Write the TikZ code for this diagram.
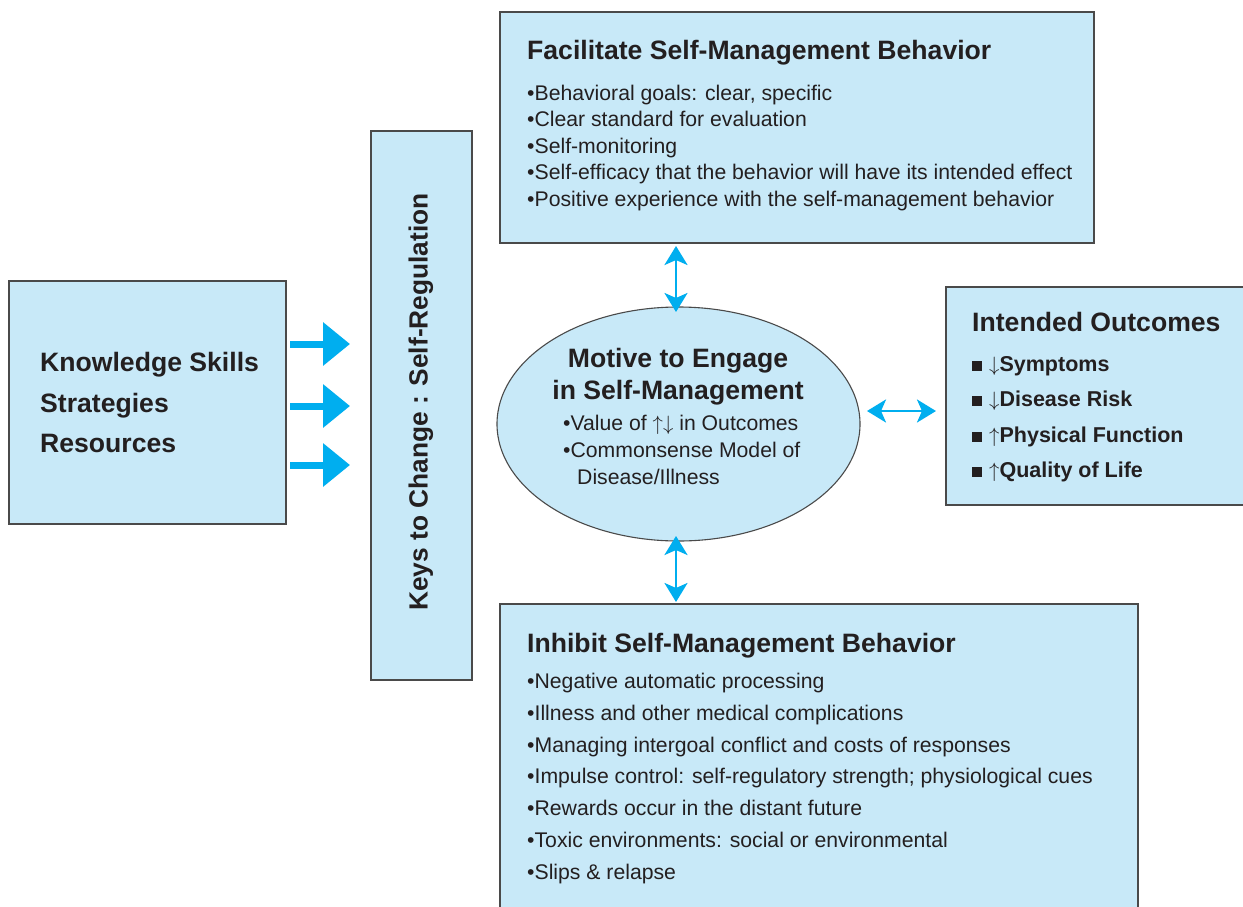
\documentclass[tikz,border=0pt]{standalone}
\usepackage{fontspec}
\setmainfont{Liberation Sans}
\usetikzlibrary{arrows.meta,shapes.geometric}
\definecolor{boxfill}{HTML}{C8E9F8}
\definecolor{boxline}{HTML}{4A4A4A}
\definecolor{arr}{HTML}{00AEEF}
\definecolor{txt}{HTML}{231F20}
\newcommand{\UpA}{$\uparrow$}
\newcommand{\DnA}{$\downarrow$}
\newcommand{\Sq}{\rule{10pt}{10pt}\hspace{7pt}}
\begin{document}
\begin{tikzpicture}[x=1pt,y=-1pt,
  panel/.style={draw=boxline,fill=boxfill,line width=1.1pt},
  title/.style={anchor=base west,font=\fontsize{26.6}{30}\selectfont\bfseries,text=txt,inner sep=0},
  item/.style={anchor=base west,font=\fontsize{21.2}{25}\selectfont,text=txt,inner sep=0},
  outitem/.style={anchor=base west,font=\fontsize{21.5}{25}\selectfont\bfseries,text=txt,inner sep=0},
  bigarrow/.style={draw=arr,line width=7pt,-{Triangle[length=27pt,width=42pt]}},
  dblarrow/.style={draw=arr,line width=2.8pt,{Stealth[length=19pt,width=23pt,inset=5pt]}-{Stealth[length=19pt,width=23pt,inset=5pt]}}]
\useasboundingbox (0,0) rectangle (1243,906);
\fill[white] (0,0) rectangle (1243,906);
% boxes
\path[panel] (9,281) rectangle (286,524);
\node[inner sep=0,minimum width=277pt,minimum height=243pt] (kn) at (147.5,402.5) {};
\path[panel] (371,131) rectangle (472,680);
\node[inner sep=0,minimum width=101pt,minimum height=549pt] (keys) at (421.5,405.5) {};
\path[panel] (500,12) rectangle (1094,243);
\node[inner sep=0,minimum width=594pt,minimum height=231pt] (fac) at (797,127.5) {};
\path[panel] (946,287) rectangle (1250,505);
\node[inner sep=0,minimum width=297pt,minimum height=218pt] (out) at (1094.5,396) {};
\path[panel] (500,604) rectangle (1138,920);
\node[inner sep=0,minimum width=638pt,minimum height=302pt] (inh) at (819,755) {};
\node[ellipse,draw=boxline,fill=boxfill,line width=1.1pt,inner sep=0,minimum width=363pt,minimum height=234pt] (mot) at (678.5,424) {};
% left text
\node[title] (k1) at (40,371) {Knowledge Skills};
\node[title] (k2) at (40,412) {Strategies};
\node[title] (k3) at (40,452) {Resources};
% vertical text
\node[rotate=90,font=\fontsize{26.3}{30}\selectfont\bfseries,text=txt,inner sep=0] (kt) at (421,402) {Keys to Change : Self-Regulation};
% facilitate
\node[title] (ft) at (527,59) {Facilitate Self-Management Behavior};
\node[item] (f1) at (527,100) {•Behavioral goals: clear, specific};
\node[item] (f2) at (527,126.5) {•Clear standard for evaluation};
\node[item] (f3) at (527,153) {•Self-monitoring};
\node[item] (f4) at (527,179.5) {•Self-efficacy that the behavior will have its intended effect};
\node[item] (f5) at (527,206) {•Positive experience with the self-management behavior};
% inhibit
\node[title] (it) at (527,652) {Inhibit Self-Management Behavior};
\node[item] (i1) at (527,688) {•Negative automatic processing};
\node[item] (i2) at (527,720) {•Illness and other medical complications};
\node[item] (i3) at (527,752) {•Managing intergoal conflict and costs of responses};
\node[item] (i4) at (527,783.5) {•Impulse control: self-regulatory strength; physiological cues};
\node[item] (i5) at (527,815) {•Rewards occur in the distant future};
\node[item] (i6) at (527,847) {•Toxic environments: social or environmental};
\node[item] (i7) at (527,879) {•Slips \& relapse};
% outcomes
\node[title] (ot) at (972,331) {Intended Outcomes};
\node[outitem] (o1) at (972,371) {\Sq\DnA Symptoms};
\node[outitem] (o2) at (972,406) {\Sq\DnA Disease Risk};
\node[outitem] (o3) at (972,442) {\Sq\UpA Physical Function};
\node[outitem] (o4) at (972,477) {\Sq\UpA Quality of Life};
% ellipse text
\node[font=\fontsize{26.6}{30}\selectfont\bfseries,text=txt,inner sep=0,anchor=base] (m1) at (678,367) {Motive to Engage};
\node[font=\fontsize{26.6}{30}\selectfont\bfseries,text=txt,inner sep=0,anchor=base] (m2) at (678,399) {in Self-Management};
\node[item] (m3) at (563,430) {•Value of \UpA\DnA\ in Outcomes};
\node[item] (m4) at (563,457) {•Commonsense Model of};
\node[item] (m5) at (577,484) {Disease/Illness};
% arrows
\coordinate (a1s) at (290,344); \coordinate (a1e) at (350,344);
\coordinate (a2s) at (290,406); \coordinate (a2e) at (350,406);
\coordinate (a3s) at (290,465); \coordinate (a3e) at (350,465);
\draw[bigarrow] (a1s) -- (a1e);
\draw[bigarrow] (a2s) -- (a2e);
\draw[bigarrow] (a3s) -- (a3e);
\coordinate (t1) at (676,246); \coordinate (t2) at (676,312);
\coordinate (b1) at (676,536); \coordinate (b2) at (676,602);
\coordinate (h1) at (867,411); \coordinate (h2) at (936,411);
\draw[dblarrow] (t1) -- (t2);
\draw[dblarrow] (b1) -- (b2);
\draw[dblarrow] (h1) -- (h2);
\end{tikzpicture}
\end{document}
